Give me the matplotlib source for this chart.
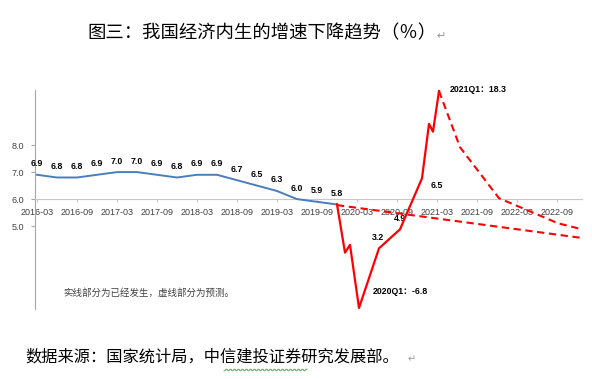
import numpy as np
import matplotlib
matplotlib.use('Agg')
import matplotlib.pyplot as plt
from matplotlib.lines import Line2D

plt.rcParams['font.family'] = ['Noto Sans CJK SC', 'DejaVu Sans']

# 实际GDP增速（季度，左轴刻度）
blue_x = list(range(16))
blue_vals = [6.9, 6.8, 6.8, 6.9, 7.0, 7.0, 6.9, 6.8, 6.9, 6.9, 6.7, 6.5, 6.3, 6.0, 5.9, 5.8]

# 疫情后走势（右侧隐藏刻度）
red_x = [15.0, 15.4, 15.65, 16.1, 17.1, 18.15, 19.25, 19.6, 19.8, 20.1]
red_vals = [5.2, -0.4, 0.5, -6.8, 0.1, 2.3, 8.2, 14.5, 13.6, 18.3]
fore_x = [20.1, 21.15, 23.1, 26.05, 27.25]
fore_vals = [18.3, 11.8, 5.9, 3.0, 2.3]
trend_x = [15.0, 27.25]
trend_vals = [5.1, 1.3]

tick_pos = list(range(0, 27, 2))
tick_labels = ['2016-03', '2016-09', '2017-03', '2017-09', '2018-03', '2018-09', '2019-03',
               '2019-09', '2020-03', '2020-09', '2021-03', '2021-09', '2022-03', '2022-09']

W, H = 592, 380
fig = plt.figure(figsize=(W / 100, H / 100), dpi=100)

ax = fig.add_axes([35 / W, 1 - 309 / H, 547 / W, 219 / H])
ax.set_xlim(-0.1, 27.25)
ax.set_ylim(1.93, 10.04)
for s in ['top', 'right']:
    ax.spines[s].set_visible(False)
ax.spines['bottom'].set_position(('data', 6.0))
ax.spines['bottom'].set_color('#c8c8c8')
ax.spines['left'].set_color('#a6a6a6')
ax.set_xticks(tick_pos)
ax.set_xticklabels(tick_labels, family='Liberation Sans', fontsize=6.5, color='#404040')
ax.set_yticks([5, 6, 7, 8])
ax.set_yticklabels(['5.0', '6.0', '7.0', '8.0'], family='Liberation Sans', fontsize=6.5, color='#404040')
ax.tick_params(axis='x', length=2.5, color='#c8c8c8', pad=4)
ax.tick_params(axis='y', length=3, color='#a6a6a6', pad=5)

ax.plot(blue_x, blue_vals, color='#4a7ebb', lw=1.4, zorder=3)
for x, v in zip(blue_x, blue_vals):
    ax.annotate(f'{v:.1f}', (x, v), xytext=(0, 11), textcoords='offset pixels',
                ha='center', va='center', family='Liberation Sans', fontsize=6.3,
                fontweight='bold', color='black')

ax.text(0.051, 0.073, '实线部分为已经发生，虚线部分为预测。', transform=ax.transAxes,
        fontsize=6.8, color='#404040', va='center', ha='left')

ax2 = ax.twinx()
ax2.set_ylim(-6.92, 18.42)
ax2.axis('off')
ax2.plot(red_x, red_vals, color='#ff0000', lw=1.6, zorder=4)
ax2.plot(fore_x, fore_vals, color='#ff0000', lw=1.5, ls=(0, (3.5, 2.2)))
ax2.plot(trend_x, trend_vals, color='#ff0000', lw=1.5, ls=(0, (3.5, 2.2)))

lab = dict(family=['Liberation Sans', 'Noto Sans CJK SC'], fontsize=6.3, fontweight='bold',
           color='black', va='center')
ax2.text(17.05, 1.4, '3.2', ha='center', **lab)
ax2.text(18.15, 3.6, '4.9', ha='center', **lab)
ax2.text(20.0, 7.4, '6.5', ha='center', **lab)
ax2.text(20.65, 18.5, '2021Q1：18.3', ha='left', clip_on=False, **lab)
ax2.text(16.8, -4.95, '2020Q1：-6.8', ha='left', **lab)

fig.text(87 / W, 1 - 33 / H, '图三：我国经济内生的增速下降趋势（％）', fontsize=13.2,
         ha='left', va='center', color='black')
fig.text(436 / W, 1 - 36 / H, '↵', fontsize=8, ha='left', va='center', color='#999999',
         family=['DejaVu Sans'])
fig.text(25 / W, 1 - 357 / H, '数据来源：国家统计局，中信建投证券研究发展部。', fontsize=11.7,
         ha='left', va='center', color='black')
fig.text(408 / W, 1 - 359 / H, '↵', fontsize=7, ha='left', va='center', color='#999999',
         family=['DejaVu Sans'])

# 拼写检查波浪线
wx = np.arange(224, 308, 1.0)
wy = 370 + np.where((wx // 2) % 2 == 0, 0.8, -0.8)
fig.add_artist(Line2D(wx / W, 1 - wy / H, color='#3c9a3c', lw=0.6, transform=fig.transFigure))

fig.savefig('out.png', dpi=100)
